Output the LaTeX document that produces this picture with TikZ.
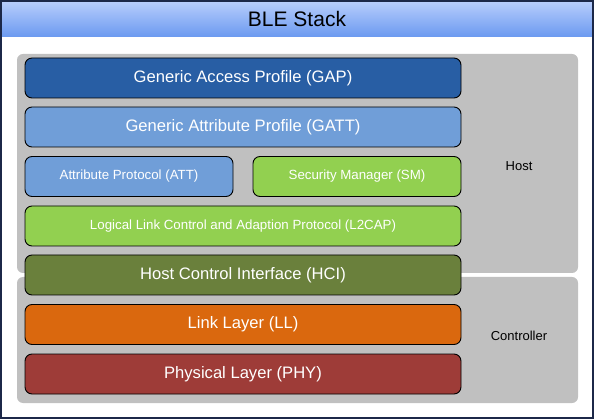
\documentclass[tikz,border=0pt]{standalone}
\usepackage{fontspec}
\setmainfont{Liberation Sans}
\definecolor{navy}{RGB}{28,40,72}
\definecolor{titletop}{RGB}{184,206,252}
\definecolor{titlebot}{RGB}{108,154,240}
\definecolor{grp}{RGB}{192,192,192}
\definecolor{gapc}{RGB}{40,94,164}
\definecolor{gattc}{RGB}{112,158,216}
\definecolor{smc}{RGB}{146,208,80}
\definecolor{hcic}{RGB}{106,128,60}
\definecolor{llc}{RGB}{218,104,14}
\definecolor{phyc}{RGB}{158,60,56}
\tikzset{
  layer/.style={draw=black, line width=0.9pt, rounded corners=7pt, inner sep=0pt, text=white, font=\fontsize{16.6}{18}\selectfont},
  smalllayer/.style={layer, font=\fontsize{13.3}{15}\selectfont},
  group/.style={fill=grp, draw=none, rounded corners=6pt},
  grouplabel/.style={font=\fontsize{13}{15}\selectfont, text=black}
}
\begin{document}
\begin{tikzpicture}[x=1pt,y=-1pt]
\useasboundingbox (0,0) rectangle (594,419);
% outer frame
\fill[white] (1,1) rectangle (593,418);
\shade[top color=titletop, bottom color=titlebot] (1,1) rectangle (593,36.5);
\draw[navy, line width=1.5pt] (1,1) rectangle (593,418);
\node[font=\fontsize{21}{24}\selectfont, text=black] (title) at (297,18.5) {BLE Stack};
% groups
\fill[group] (17,54) rectangle (578,273);
\fill[group] (17,277) rectangle (578,403);
\node[grouplabel] (host) at (519,166) {Host};
\node[grouplabel] (ctrl) at (519,336) {Controller};
% layers
\node[layer, fill=gapc, minimum width=436pt, minimum height=40pt] (gap) at (243,78) {Generic Access Profile (GAP)};
\node[layer, fill=gattc, minimum width=436pt, minimum height=40pt] (gatt) at (243,127) {Generic Attribute Profile (GATT)};
\node[smalllayer, fill=gattc, minimum width=208pt, minimum height=40pt] (att) at (129,176.5) {Attribute Protocol (ATT)};
\node[smalllayer, fill=smc, minimum width=208pt, minimum height=40pt] (sm) at (357,176.5) {Security Manager (SM)};
\node[smalllayer, fill=smc, minimum width=436pt, minimum height=40pt] (l2cap) at (243,226) {Logical Link Control and Adaption Protocol (L2CAP)};
\node[layer, fill=hcic, minimum width=436pt, minimum height=40pt] (hci) at (243,275) {Host Control Interface (HCI)};
\node[layer, fill=llc, minimum width=436pt, minimum height=40pt] (ll) at (243,324.5) {Link Layer (LL)};
\node[layer, fill=phyc, minimum width=436pt, minimum height=40pt] (phy) at (243,374) {Physical Layer (PHY)};
\end{tikzpicture}
\end{document}
